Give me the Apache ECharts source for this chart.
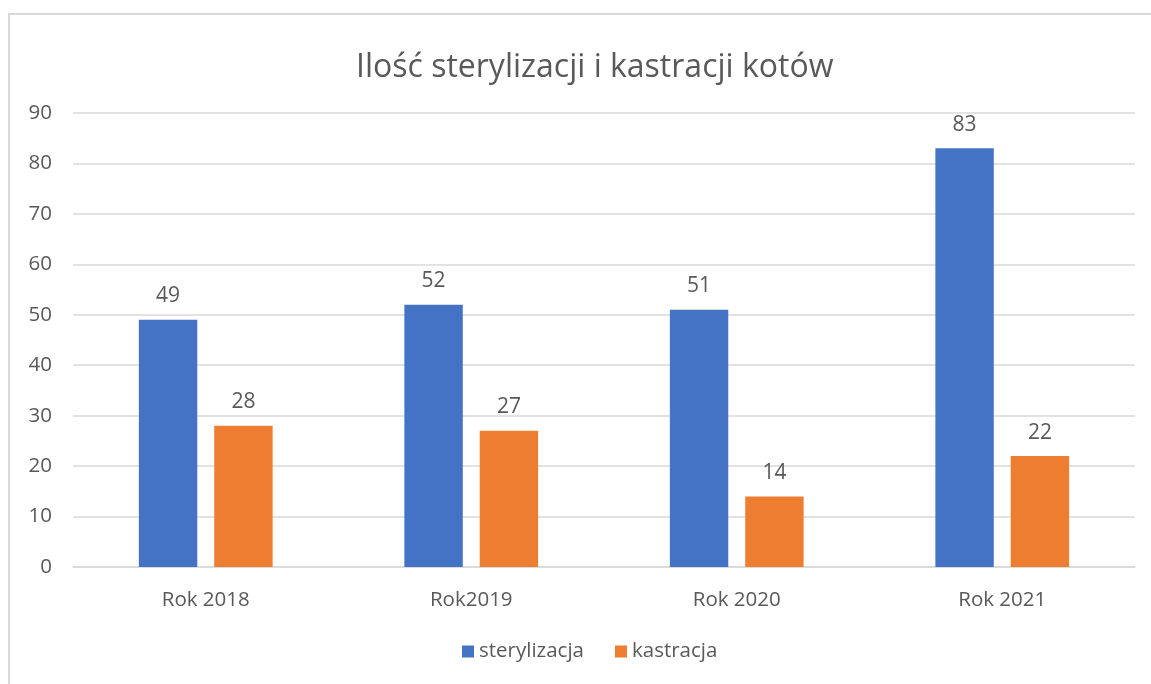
<!DOCTYPE html>
<html>
<head>
<meta charset="utf-8">
<script src="https://cdn.jsdelivr.net/npm/echarts@6/dist/echarts.min.js"></script>
<style>
  html, body { margin: 0; padding: 0; background: #fff; }
  #chart { width: 1151px; height: 684px; }
</style>
</head>
<body>
<div id="chart"></div>
<script>
  // dane z wykresu
  var categories = ['Rok 2018', 'Rok2019', 'Rok 2020', 'Rok 2021'];
  var sterylizacja = [49, 52, 51, 83];
  var kastracja = [28, 27, 14, 22];

  var txt = '#595959';
  var font = 'Open Sans';

  var myChart = echarts.init(document.getElementById('chart'));
  var options = {
    backgroundColor: '#fff',
    animation: false,
    textStyle: { fontFamily: font },
    graphic: [{
      type: 'rect',
      shape: { x: 9, y: 14, width: 1200, height: 700 },
      style: { fill: 'none', stroke: '#d9d9d9', lineWidth: 2 },
      silent: true
    }],
    title: {
      text: 'Ilość sterylizacji i kastracji kotów',
      left: 351,
      top: 47,
      textStyle: { fontFamily: font, fontSize: 32, fontWeight: 'normal', color: txt }
    },
    grid: {
      left: 73,
      right: 16,
      top: 113,
      bottom: 117,
      containLabel: false
    },
    legend: {
      data: ['sterylizacja', 'kastracja'],
      bottom: 17,
      left: 457,
      itemWidth: 12,
      itemHeight: 12,
      itemGap: 31,
      icon: 'rect',
      textStyle: { fontFamily: font, fontSize: 20.5, color: txt }
    },
    xAxis: [{  // kategorie
      type: 'category',
      data: categories,
      axisLine: { lineStyle: { color: '#d9d9d9', width: 1.5 } },
      axisTick: { show: false },
      axisLabel: { color: txt, fontSize: 20.5, margin: 23 }
    }],
    yAxis: [{  // wartości
      type: 'value',
      min: 0,
      max: 90,
      interval: 10,
      axisLine: { show: false },
      axisTick: { show: false },
      axisLabel: { color: txt, fontSize: 20.5, margin: 21 },
      splitLine: { lineStyle: { color: '#d9d9d9', width: 1.5 } }
    }],
    series: [
      {
        name: 'sterylizacja',
        type: 'bar',
        data: sterylizacja,
        barWidth: '22%',
        barGap: '29%',
        itemStyle: { color: '#4472C4' },
        label: { show: true, position: 'top', distance: 13, color: txt, fontSize: 21 }
      },
      {
        name: 'kastracja',
        type: 'bar',
        data: kastracja,
        barWidth: '22%',
        itemStyle: { color: '#ED7D31' },
        label: { show: true, position: 'top', distance: 13, color: txt, fontSize: 21 }
      }
    ]
  };
  myChart.setOption(options);
</script>
</body>
</html>
